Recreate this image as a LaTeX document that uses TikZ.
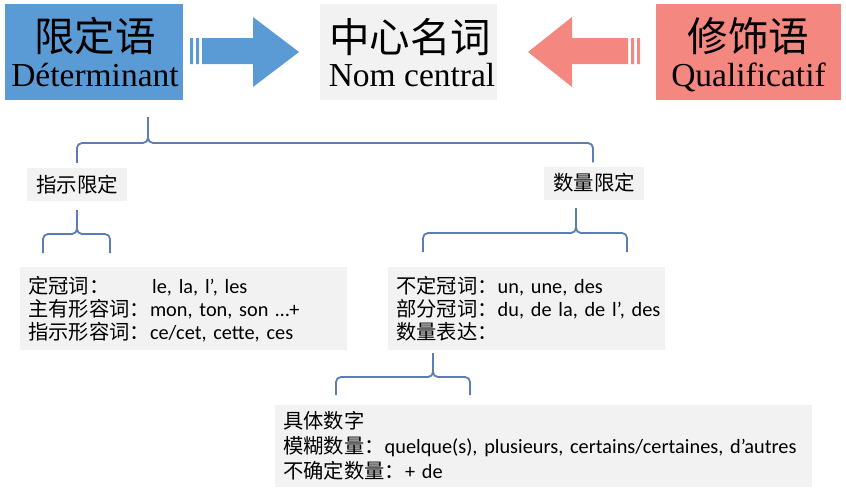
\documentclass[tikz,border=0pt]{standalone}
\usepackage{fontspec}
\setmainfont{Carlito}
\newfontfamily\cjk{Noto Sans CJK SC}
\newfontfamily\tms[Ligatures=NoCommon]{Liberation Serif}
\usetikzlibrary{calc}
\definecolor{detblue}{HTML}{5B9BD5}
\definecolor{qualred}{HTML}{F4877F}
\definecolor{panel}{HTML}{F2F2F2}
\definecolor{wirecol}{HTML}{5B7DB3}

\begin{document}
\begin{tikzpicture}[x=1pt,y=-1pt,
  headbox/.style={minimum height=96pt,inner sep=0pt},
  zhhead/.style={font=\cjk\fontsize{40.5}{42}\selectfont,inner sep=0pt},
  frhead/.style={font=\tms\fontsize{33.5}{36}\selectfont,inner sep=0pt,anchor=base},
  tagbox/.style={fill=panel,minimum width=100pt,minimum height=33pt,inner sep=0pt,font=\cjk\fontsize{20.5}{23}\selectfont},
  listbox/.style={fill=panel,anchor=north west,inner xsep=8pt,inner ysep=0pt,align=left,font=\fontsize{20.3}{23}\selectfont},
  wire/.style={draw=wirecol,line width=1.8pt,rounded corners=5pt}]
\useasboundingbox (0,0) rectangle (846,499);
\node[headbox,fill=detblue,minimum width=178pt] (det) at (94,51.5) {};
\node[zhhead] (det-zh) at (95,36) {限定语};
\node[frhead] (det-fr) at (95,86) {Déterminant};
\node[headbox,fill=panel,minimum width=177pt] (noun) at (408.5,52) {};
\node[zhhead] (noun-zh) at (410,37) {中心名词};
\node[frhead] (noun-fr) at (412,86) {Nom central};
\node[headbox,fill=qualred,minimum width=185pt] (qual) at (748.5,51.5) {};
\node[zhhead] (qual-zh) at (748.5,36) {修饰语};
\node[frhead] (qual-fr) at (748.5,86) {Qualificatif};
\fill[detblue] (190,38) rectangle (193,64) (196,38) rectangle (199,64)
  (202,38) -- (253,38) -- (253,17) -- (299,52) -- (253,87) -- (253,64) -- (202,64) -- cycle;
\fill[qualred] (640,38) rectangle (637,64) (634,38) rectangle (631,64)
  (628,38) -- (572,38) -- (572,17) -- (528,52) -- (572,87) -- (572,64) -- (628,64) -- cycle;
\node[tagbox] (show) at (77,184.5) {指示限定};
\node[tagbox] (qty) at (594,183) {数量限定};
\node[listbox,text width=311pt,minimum height=83pt] (arts) at (20,267)
  {\mbox{\makebox[124pt][l]{\cjk 定冠词：}le, la, l’, les}\\
   \mbox{{\cjk 主有形容词：}mon, ton, son …+}\\
   \mbox{{\cjk 指示形容词：}ce/cet, cette, ces}};
\node[listbox,text width=261pt,minimum height=83pt] (parts) at (388,267)
  {\mbox{{\cjk 不定冠词：}un, une, des}\\
   \mbox{{\cjk 部分冠词：}du, de la, de l’, des}\\
   \mbox{{\cjk 数量表达：}}};
\node[listbox,text width=521pt,minimum height=82pt,font=\fontsize{20.3}{25}\selectfont] (nums) at (275,405)
  {\mbox{{\cjk 具体数字}}\\
   \mbox{{\cjk 模糊数量：}quelque(s), plusieurs, certains/certaines, d’autres}\\
   \mbox{{\cjk 不确定数量：}+ de}};
\coordinate (t1) at (148,117);
\coordinate (m1) at (148,143);
\coordinate (l1) at ($(show.north)+(0,-5)$);
\coordinate (r1) at ($(qty.north)+(-1,-4)$);
\draw[wire] (l1) |- (m1) -- (t1);
\draw[wire] (r1) |- (m1) -- (t1);
\coordinate (t2) at ($(show.south)+(0,9)$);
\coordinate (m2) at (77,234);
\coordinate (l2) at (43,253);
\coordinate (r2) at (110,253);
\draw[wire] (l2) |- (m2) -- (t2);
\draw[wire] (r2) |- (m2) -- (t2);
\coordinate (t3) at (576,208);
\coordinate (m3) at (576,233);
\coordinate (l3) at (423,252);
\coordinate (r3) at (627,252);
\draw[wire] (l3) |- (m3) -- (t3);
\draw[wire] (r3) |- (m3) -- (t3);
\coordinate (t4) at (433,353);
\coordinate (m4) at (433,377);
\coordinate (l4) at (336,395);
\coordinate (r4) at (470,395);
\draw[wire] (l4) |- (m4) -- (t4);
\draw[wire] (r4) |- (m4) -- (t4);
\end{tikzpicture}
\end{document}
